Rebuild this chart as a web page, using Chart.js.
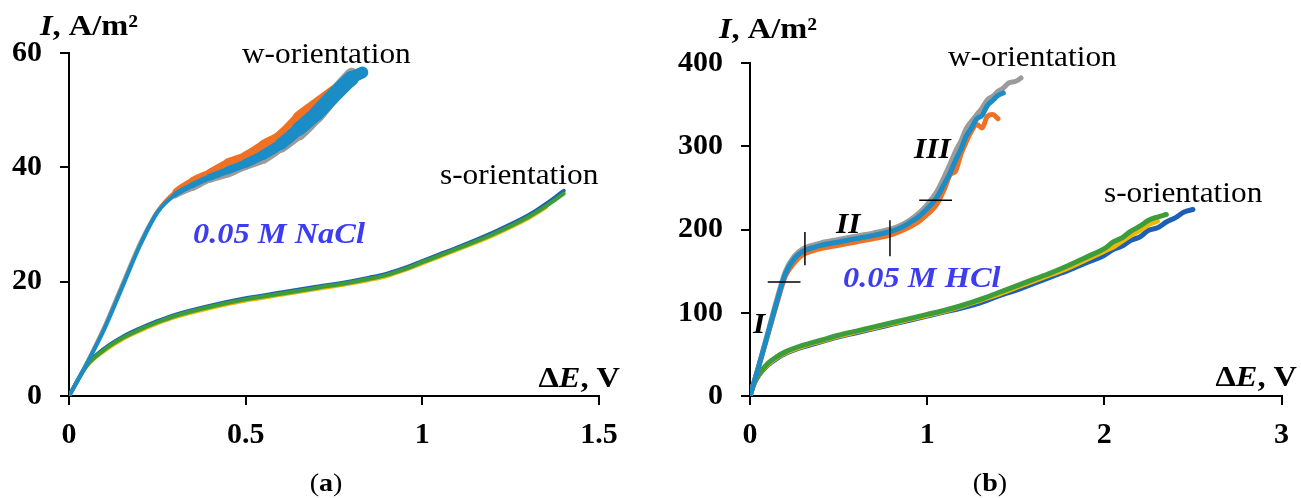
<!DOCTYPE html>
<html>
<head>
<meta charset="utf-8">
<script src="https://cdn.jsdelivr.net/npm/chart.js@4.4.1/dist/chart.umd.min.js"></script>
<style>
  html, body { margin: 0; padding: 0; background: #fff; }
  #wrap { position: relative; width: 1301px; height: 498px; overflow: hidden; }
  canvas { position: absolute; top: 0; }
</style>
</head>
<body>
<div id="wrap">
  <canvas id="chartA" width="650" height="498" style="left:0"></canvas>
  <canvas id="chartB" width="651" height="498" style="left:650px"></canvas>
</div>
<script>
(function(){
  // ---- panel (a): 0.05 M NaCl ----
  const aXTicks = [0, 0.5, 1, 1.5];
  const aYTicks = [0, 20, 40, 60];

  const aWE      = [0, 0.05, 0.1, 0.15, 0.2, 0.25, 0.3, 0.35, 0.4, 0.45, 0.5, 0.55, 0.6, 0.65, 0.7, 0.75, 0.8, 0.83];
  const aWBlue   = [0, 5.6, 11.7, 18.9, 26.2, 32.1, 35.2, 36.9, 38.3, 39.5, 40.7, 42.2, 44.1, 46.7, 49.4, 52.6, 55.6, 56.6];
  const aWOrange = [0, 5.7, 11.9, 19.1, 26.4, 32.4, 35.8, 37.8, 39.2, 40.9, 42.0, 43.9, 45.6, 48.6, 50.9, 53.2];
  const aWGray   = [0, 5.9, 12.3, 19.6, 26.8, 32.4, 35.0, 36.4, 37.9, 38.9, 40.3, 41.5, 43.6, 45.9, 49.0, 52.8, 56.2];

  const aSE      = [0, 0.05, 0.1, 0.15, 0.2, 0.25, 0.3, 0.4, 0.5, 0.6, 0.7, 0.8, 0.85, 0.9, 0.95, 1.0, 1.05, 1.1, 1.2, 1.3, 1.35, 1.4];
  const aSGreen  = [0, 5.3, 8.1, 10.1, 11.6, 12.9, 14.0, 15.6, 16.9, 17.9, 18.9, 19.9, 20.5, 21.2, 22.2, 23.4, 24.6, 25.8, 28.3, 31.3, 33.2, 35.4];
  const aSBlue   = [0, 5.4, 8.3, 10.3, 11.8, 13.1, 14.2, 15.8, 17.1, 18.1, 19.1, 20.1, 20.7, 21.4, 22.4, 23.6, 24.8, 26.0, 28.6, 31.6, 33.6, 35.9];
  const aSYellow = [0, 5.2, 7.9, 9.9, 11.4, 12.7, 13.8, 15.4, 16.7, 17.7, 18.7, 19.7, 20.3, 21.0, 22.0, 23.2, 24.4, 25.6, 28.1, 31.1, 33.0];

  // ---- panel (b): 0.05 M HCl ----
  const bXTicks = [0, 1, 2, 3];
  const bYTicks = [0, 100, 200, 300, 400];

  const bWE      = [0, 0.05, 0.1, 0.15, 0.2, 0.25, 0.3, 0.35, 0.4, 0.5, 0.6, 0.7, 0.8, 0.85, 0.9, 0.95, 1.0, 1.05, 1.1, 1.13, 1.16, 1.19, 1.22, 1.25, 1.28, 1.31, 1.34, 1.37, 1.4, 1.43, 1.46, 1.5, 1.53];
  const bWBlue   = [0, 36, 74, 112, 147, 165, 174, 178, 181, 185, 189, 193, 198, 202, 208, 215, 225, 237, 256, 268, 283, 296, 312, 322, 333, 337, 349, 355, 361, 364];
  const bWGray   = [0, 37, 76, 115, 150, 168, 177, 181, 184, 188, 192, 196, 201, 205, 211, 219, 230, 244, 265, 279, 294, 306, 321, 330, 338, 346, 356, 360, 366, 370, 376, 378, 382];
  const bWOrange = [0, 36, 73, 110, 144, 160, 170, 174, 177, 181, 185, 189, 194, 198, 203, 209, 218, 229, 250, 266, 270, 290, 305, 318, 326, 322, 336, 338, 333];

  const bSE      = [0, 0.02, 0.05, 0.1, 0.15, 0.2, 0.3, 0.4, 0.5, 0.6, 0.7, 0.8, 0.9, 1.0, 1.1, 1.2, 1.3, 1.4, 1.5, 1.6, 1.7, 1.8, 1.9, 2.0, 2.05, 2.1, 2.15, 2.2, 2.25, 2.3, 2.35, 2.4, 2.45, 2.5];
  const bSGreen  = [0, 14, 26, 39, 47, 53, 61, 67, 73, 78, 83, 88, 93, 98, 103, 109, 116, 124, 132, 140, 148, 157, 167, 177, 185, 190, 198, 204, 211, 215, 218];
  const bSYellow = [0, 14, 26, 38, 46, 52, 60, 66, 72, 77, 82, 87, 92, 97, 102, 108, 115, 122, 130, 138, 146, 154, 164, 174, 179, 186, 193, 199, 206, 210];
  const bSBlue   = [0, 13, 25, 37, 45, 51, 59, 65, 71, 76, 81, 86, 91, 96, 101, 106, 112, 120, 127, 135, 143, 151, 160, 169, 176, 180, 187, 191, 199, 202, 209, 214, 221, 224];

  // line widths along the w-curves of (a) (the noise band widens)
  const aWBlueW   = [4, 4, 4, 4, 4, 4, 5, 6, 7, 8, 9, 10, 12, 14, 15, 15, 12, 9];
  const aWOrangeW = [3, 3, 3, 3, 3, 3, 5, 6, 7, 8, 9, 10, 11, 13, 13, 11];
  const aWGrayW   = [3, 3, 3, 3, 3, 3, 5, 6, 7, 8, 9, 10, 12, 14, 15, 14, 10];

  const SERIF = '"Liberation Serif", "Times New Roman", Times, serif';
  const W_BLUE = '#1a8cc6', ORANGE = '#ee7124', GRAY = '#9b9b9b';
  const YELLOW = '#f2b705', D_BLUE = '#1f5fb3', GREEN = '#3b9e3a';
  const LBL_BLUE = '#3c3cf0';

  function pts(xs, ys) {
    return ys.map((v, i) => ({ x: xs[i], y: v }));
  }

  function line(xs, ys, color, order, width) {
    const ds = {
      data: pts(xs, ys),
      borderColor: color,
      borderWidth: Array.isArray(width) ? width[0] : width,
      pointRadius: 0,
      fill: false,
      cubicInterpolationMode: 'monotone',
      borderCapStyle: 'round',
      borderJoinStyle: 'round',
      order: order
    };
    if (Array.isArray(width)) {
      ds.segment = { borderWidth: c => width[c.p0DataIndex] };
    }
    return ds;
  }

  function drawRich(ctx, t) {
    const sx = t.sx || 1.08;
    let w = 0;
    t.parts.forEach(p => {
      ctx.font = p[1] + ' ' + t.size + 'px ' + SERIF;
      w += ctx.measureText(p[0]).width;
    });
    let x0 = t.x;
    if (t.align === 'right') x0 = t.x - w * sx;
    if (t.align === 'center') x0 = t.x - w * sx / 2;
    ctx.save();
    ctx.translate(x0, t.y);
    ctx.scale(sx, 1);
    ctx.fillStyle = t.color || '#000';
    ctx.textAlign = 'left';
    ctx.textBaseline = 'alphabetic';
    let cx = 0;
    t.parts.forEach(p => {
      ctx.font = p[1] + ' ' + t.size + 'px ' + SERIF;
      ctx.fillText(p[0], cx, 0);
      cx += ctx.measureText(p[0]).width;
    });
    ctx.restore();
  }

  const figText = {
    id: 'figText',
    afterDraw(chart, args, opts) {
      const ctx = chart.ctx;
      const xs = chart.scales.x, ys = chart.scales.y;
      ctx.save();
      (opts.marks || []).forEach(m => {
        ctx.strokeStyle = '#000';
        ctx.lineWidth = 1.5;
        ctx.beginPath();
        ctx.moveTo(xs.getPixelForValue(m[0]), ys.getPixelForValue(m[1]));
        ctx.lineTo(xs.getPixelForValue(m[2]), ys.getPixelForValue(m[3]));
        ctx.stroke();
      });
      (opts.texts || []).forEach(t => drawRich(ctx, t));
      ctx.restore();
    }
  };

  function axis(ticks, fitKey, fitVal, pad) {
    return {
      type: 'linear',
      min: ticks[0],
      max: ticks[ticks.length - 1],
      afterBuildTicks: s => { s.ticks = ticks.map(v => ({ value: v })); },
      afterFit: s => { s[fitKey] = fitVal; },
      border: { display: true, color: '#000', width: 2 },
      grid: { display: true, drawOnChartArea: false, drawTicks: true, tickLength: 9, color: '#000', lineWidth: 2 },
      ticks: {
        padding: pad,
        color: '#000',
        callback: v => String(v),
        font: { family: SERIF, size: 30, weight: 'bold' }
      }
    };
  }

  function makeChart(id, datasets, xTicks, yTicks, yWidth, padding, texts, marks) {
    return new Chart(document.getElementById(id), {
      type: 'line',
      data: { datasets: datasets },
      options: {
        responsive: false,
        animation: false,
        devicePixelRatio: 1,
        layout: { padding: padding },
        scales: {
          x: axis(xTicks, 'height', 102, 12),
          y: axis(yTicks, 'width', yWidth, 18)
        },
        plugins: {
          legend: { display: false },
          tooltip: { enabled: false },
          figText: { texts: texts, marks: marks || [] }
        }
      },
      plugins: [figText]
    });
  }

  function drawAll() {
    // ---- chart (a) ----
    makeChart('chartA', [
      line(aSE, aSGreen, GREEN, 4, 4),
      line(aSE, aSBlue, D_BLUE, 5, 4),
      line(aSE, aSYellow, YELLOW, 6, 4),
      line(aWE, aWBlue, W_BLUE, 1, aWBlueW),
      line(aWE, aWOrange, ORANGE, 2, aWOrangeW),
      line(aWE, aWGray, GRAY, 3, aWGrayW)
    ], aXTicks, aYTicks, 69, { left: 0, top: 53, right: 51, bottom: 0 }, [
      { parts: [['I', 'italic bold'], [', A/m\u00B2', 'bold']], x: 40, y: 35, size: 30 },
      { parts: [['\u0394', 'bold'], ['E', 'italic bold'], [', V', 'bold']], x: 620, y: 387, size: 30, align: 'right' },
      { parts: [['w-orientation', 'normal']], x: 242, y: 63, size: 29 },
      { parts: [['s-orientation', 'normal']], x: 440, y: 184, size: 29 },
      { parts: [['0.05 M NaCl', 'italic bold']], x: 193, y: 243, size: 30, color: LBL_BLUE },
      { parts: [['(', 'normal'], ['a', 'bold'], [')', 'normal']], x: 326, y: 491, size: 26, align: 'center' }
    ]);

    // ---- chart (b) ----
    makeChart('chartB', [
      line(bSE, bSGreen, GREEN, 4, 5),
      line(bSE, bSYellow, YELLOW, 5, 5),
      line(bSE, bSBlue, D_BLUE, 6, 5),
      line(bWE, bWBlue, W_BLUE, 1, 5),
      line(bWE, bWOrange, ORANGE, 2, 5),
      line(bWE, bWGray, GRAY, 3, 5)
    ], bXTicks, bYTicks, 100, { left: 0, top: 63, right: 14, bottom: 0 }, [
      { parts: [['I', 'italic bold'], [', A/m\u00B2', 'bold']], x: 69, y: 38, size: 30 },
      { parts: [['\u0394', 'bold'], ['E', 'italic bold'], [', V', 'bold']], x: 647, y: 386, size: 30, align: 'right' },
      { parts: [['w-orientation', 'normal']], x: 298, y: 66, size: 29 },
      { parts: [['s-orientation', 'normal']], x: 454, y: 202, size: 29 },
      { parts: [['0.05 M HCl', 'italic bold']], x: 193, y: 287, size: 30, color: LBL_BLUE },
      { parts: [['I', 'italic bold']], x: 109, y: 333, size: 29, align: 'center' },
      { parts: [['II', 'italic bold']], x: 186, y: 233, size: 29 },
      { parts: [['III', 'italic bold']], x: 264, y: 158, size: 29 },
      { parts: [['(', 'normal'], ['b', 'bold'], [')', 'normal']], x: 340, y: 491, size: 26, align: 'center' }
    ], [
      [0.10, 137, 0.285, 137],
      [0.31, 157, 0.31, 197],
      [0.79, 168, 0.79, 211],
      [0.955, 235, 1.14, 235]
    ]);
  }

  const fontLoads = ['normal', 'bold', 'italic bold'].map(s =>
    document.fonts.load(s + ' 28px "Liberation Serif"').catch(() => null));
  Promise.all(fontLoads).then(drawAll, drawAll);
})();
</script>
</body>
</html>
